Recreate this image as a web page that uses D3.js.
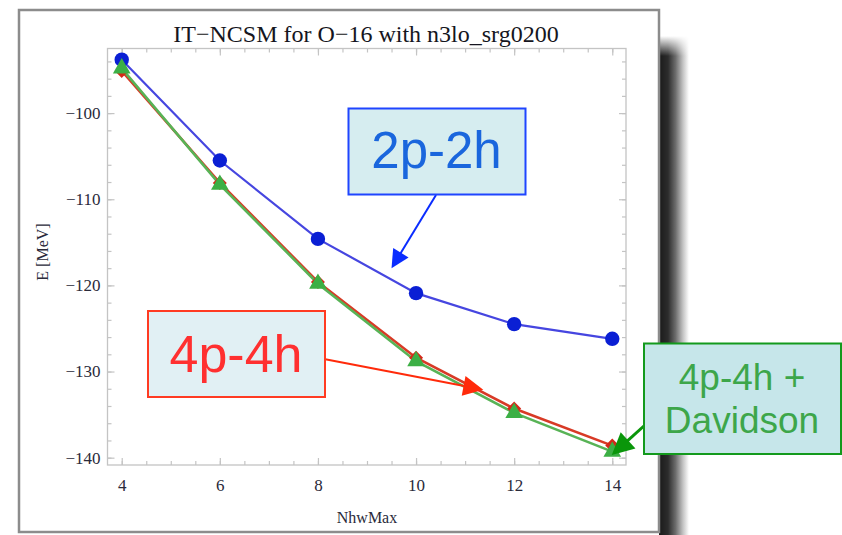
<!DOCTYPE html>
<html>
<head>
<meta charset="utf-8">
<script src="https://cdn.jsdelivr.net/npm/d3@7"></script>
<style>
  html, body { margin: 0; padding: 0; background: #fff; }
  svg { display: block; }
</style>
</head>
<body>
<svg id="chart" width="842" height="535"></svg>
<script>
// Ground-state energy of O-16 vs. model-space truncation
const nhwMax = [4, 6, 8, 10, 12, 14];
const e2p2h = [-93.8, -105.5, -114.6, -120.9, -124.5, -126.2];
const e4p4h = [-95.1, -108.1, -119.6, -128.4, -134.3, -138.6];
const e4p4hDavidson = [-94.8, -108.3, -119.8, -128.8, -134.8, -139.3];

const xTickValues = [4, 6, 8, 10, 12, 14];
const yTickValues = [-100, -110, -120, -130, -140];

const titleText = "IT\u2212NCSM for O\u221216 with n3lo_srg0200";
const xLabel = "NhwMax";
const yLabel = "E [MeV]";

// Callout labels and the points (data units) their arrows point at
const label2p2h = "2p-2h";
const label4p4h = "4p-4h";
const labelDavidson = ["4p-4h +", "Davidson"];
const tip2p2h = [9.5, -118.0];
const tip4p4h = [11.37, -132.1];
const tipDavidson = [13.99, -139.7];

const svg = d3.select("#chart");
const defs = svg.append("defs");

// Drop shadow along the right side of the panel: dark at the edge, fading out
const shade = defs.append("linearGradient").attr("id", "shade")
  .attr("x1", 0).attr("y1", 0).attr("x2", 1).attr("y2", 0);
[[0, "#1a1a1a"], [0.3, "#2c2c2c"], [0.55, "#6c6c6c"], [0.8, "#c4c4c4"], [1, "#ffffff"]]
  .forEach(([o, c]) => shade.append("stop").attr("offset", o).attr("stop-color", c));
const fadeTop = defs.append("linearGradient").attr("id", "fadeTop")
  .attr("x1", 0).attr("y1", 0).attr("x2", 0).attr("y2", 1)
  .attr("gradientUnits", "userSpaceOnUse");
fadeTop.attr("y1", 36).attr("y2", 56);
fadeTop.append("stop").attr("offset", 0).attr("stop-color", "#000");
fadeTop.append("stop").attr("offset", 1).attr("stop-color", "#fff");
defs.append("mask").attr("id", "shadowMask")
  .append("rect").attr("x", 655).attr("y", 0).attr("width", 60).attr("height", 535)
  .attr("fill", "url(#fadeTop)");

svg.append("rect")
  .attr("x", 659).attr("y", 30).attr("width", 30).attr("height", 505)
  .attr("fill", "url(#shade)").attr("mask", "url(#shadowMask)");

// Panel frame
svg.append("rect")
  .attr("x", 19).attr("y", 10).attr("width", 640).attr("height", 522)
  .attr("fill", "#fff").attr("stroke", "#8c8c8c").attr("stroke-width", 2.5);

const plot = { left: 107.5, right: 626, top: 48.5, bottom: 465 };
const x = d3.scaleLinear().domain([3.71, 14.28]).range([plot.left, plot.right]);
const y = d3.scaleLinear().domain([-92.5, -140.85]).range([plot.top, plot.bottom]);

const frameColor = "#c4c4c4";
const serif = "'Liberation Serif', 'Times New Roman', serif";
const sans = "'Liberation Sans', Arial, Helvetica, sans-serif";

function styleAxis(g) {
  g.select(".domain").remove();
  g.selectAll(".tick line").attr("stroke", frameColor).attr("stroke-width", 1.2);
  g.selectAll(".tick text").attr("font-family", serif).attr("font-size", 17).attr("fill", "#2a2a3a");
}

// Minor ticks on all four sides, pointing inward
const xMinor = x.ticks(20);
const yMinor = y.ticks(25);
svg.append("g").attr("transform", `translate(0,${plot.bottom})`)
  .call(d3.axisBottom(x).tickValues(xMinor).tickSize(-4).tickFormat("")).call(styleAxis);
svg.append("g").attr("transform", `translate(0,${plot.top})`)
  .call(d3.axisTop(x).tickValues(xMinor).tickSize(-4).tickFormat("")).call(styleAxis);
svg.append("g").attr("transform", `translate(${plot.left},0)`)
  .call(d3.axisLeft(y).tickValues(yMinor).tickSize(-4).tickFormat("")).call(styleAxis);
svg.append("g").attr("transform", `translate(${plot.right},0)`)
  .call(d3.axisRight(y).tickValues(yMinor).tickSize(-4).tickFormat("")).call(styleAxis);

// Major ticks with labels
const minusFmt = d => String(d).replace("-", "\u2212");
svg.append("g").attr("transform", `translate(0,${plot.bottom})`)
  .call(d3.axisBottom(x).tickValues(xTickValues).tickSize(-7).tickPadding(14).tickFormat(minusFmt))
  .call(styleAxis);
svg.append("g").attr("transform", `translate(0,${plot.top})`)
  .call(d3.axisTop(x).tickValues(xTickValues).tickSize(-7).tickFormat("")).call(styleAxis);
svg.append("g").attr("transform", `translate(${plot.left},0)`)
  .call(d3.axisLeft(y).tickValues(yTickValues).tickSize(-7).tickPadding(7).tickFormat(minusFmt))
  .call(styleAxis);
svg.append("g").attr("transform", `translate(${plot.right},0)`)
  .call(d3.axisRight(y).tickValues(yTickValues).tickSize(-7).tickFormat("")).call(styleAxis);

// Plot frame
svg.append("rect")
  .attr("x", plot.left).attr("y", plot.top)
  .attr("width", plot.right - plot.left).attr("height", plot.bottom - plot.top)
  .attr("fill", "none").attr("stroke", frameColor).attr("stroke-width", 1.3);

// Title and axis labels
svg.append("text").attr("x", 366).attr("y", 41.5).attr("text-anchor", "middle")
  .attr("font-family", serif).attr("font-size", 24).attr("fill", "#151520").text(titleText);
svg.append("text").attr("x", 367).attr("y", 523).attr("text-anchor", "middle")
  .attr("font-family", serif).attr("font-size", 16).attr("fill", "#2a2a3a").text(xLabel);
svg.append("text").attr("transform", "translate(48,252) rotate(-90)").attr("text-anchor", "middle")
  .attr("font-family", serif).attr("font-size", 16).attr("fill", "#2a2a3a").text(yLabel);

// Series
const line = d3.line().x(d => x(d[0])).y(d => y(d[1]));
const pts = vals => nhwMax.map((n, i) => [n, vals[i]]);

const series = svg.append("g");
series.append("path").datum(pts(e2p2h)).attr("d", line)
  .attr("fill", "none").attr("stroke", "#4646e0").attr("stroke-width", 2.2);
series.append("path").datum(pts(e4p4h)).attr("d", line)
  .attr("fill", "none").attr("stroke", "#d83a26").attr("stroke-width", 2.6);
series.append("path").datum(pts(e4p4hDavidson)).attr("d", line)
  .attr("fill", "none").attr("stroke", "#58b356").attr("stroke-width", 2.6);

series.selectAll("circle.m2p").data(pts(e2p2h)).join("circle")
  .attr("cx", d => x(d[0])).attr("cy", d => y(d[1])).attr("r", 7.2)
  .attr("fill", "#0a1fd4");

const diamond = d3.symbol().type(d3.symbolDiamond2).size(125);
series.selectAll("path.m4p").data(pts(e4p4h)).join("path")
  .attr("transform", d => `translate(${x(d[0])},${y(d[1])})`)
  .attr("d", diamond).attr("fill", "#d42818");

const triangle = d3.symbol().type(d3.symbolTriangle).size(135);
series.selectAll("path.mdav").data(pts(e4p4hDavidson)).join("path")
  .attr("transform", d => `translate(${x(d[0])},${y(d[1])})`)
  .attr("d", triangle).attr("fill", "#3caf45");

// Callouts
function arrow(x1, y1, x2, y2, color, width, headLen, headHalf) {
  const dx = x2 - x1, dy = y2 - y1, len = Math.hypot(dx, dy);
  const ux = dx / len, uy = dy / len;
  const bx = x2 - ux * headLen, by = y2 - uy * headLen;
  svg.append("line").attr("x1", x1).attr("y1", y1).attr("x2", bx + ux * 2).attr("y2", by + uy * 2)
    .attr("stroke", color).attr("stroke-width", width);
  svg.append("path")
    .attr("d", `M${x2},${y2}L${bx - uy * headHalf},${by + ux * headHalf}L${bx + uy * headHalf},${by - ux * headHalf}Z`)
    .attr("fill", color);
}

function callout(bx, by, bw, bh, fill, stroke, sw) {
  svg.append("rect").attr("x", bx).attr("y", by).attr("width", bw).attr("height", bh)
    .attr("fill", fill).attr("stroke", stroke).attr("stroke-width", sw);
}

// 2p-2h
arrow(436, 195, x(tip2p2h[0]), y(tip2p2h[1]), "#0a2cff", 2, 18, 9);
callout(348.5, 108.5, 177, 86, "#d6edf0", "#1f45ff", 2);
svg.append("text").attr("x", 436.5).attr("y", 168).attr("text-anchor", "middle")
  .attr("font-family", sans).attr("font-size", 51).attr("fill", "#1a66dd").text(label2p2h);

// 4p-4h
arrow(324, 359, x(tip4p4h[0]), y(tip4p4h[1]), "#ff2a0a", 2, 20, 10);
callout(148, 311, 177, 86, "#e1f0f4", "#ff3b22", 2);
svg.append("text").attr("x", 236).attr("y", 371.5).attr("text-anchor", "middle")
  .attr("font-family", sans).attr("font-size", 52).attr("fill", "#ff3030").text(label4p4h);

// 4p-4h + Davidson
arrow(645, 425, x(tipDavidson[0]), y(tipDavidson[1]), "#0a960a", 3, 22, 11);
callout(644, 343.5, 197, 110.5, "#c6e6ea", "#139a1d", 2);
svg.append("text").attr("text-anchor", "middle")
  .attr("font-family", sans).attr("font-size", 37).attr("fill", "#3da64a")
  .selectAll("tspan").data(labelDavidson).join("tspan")
  .attr("x", 742).attr("y", (d, i) => 390 + i * 43).text(d => d);
</script>
</body>
</html>
